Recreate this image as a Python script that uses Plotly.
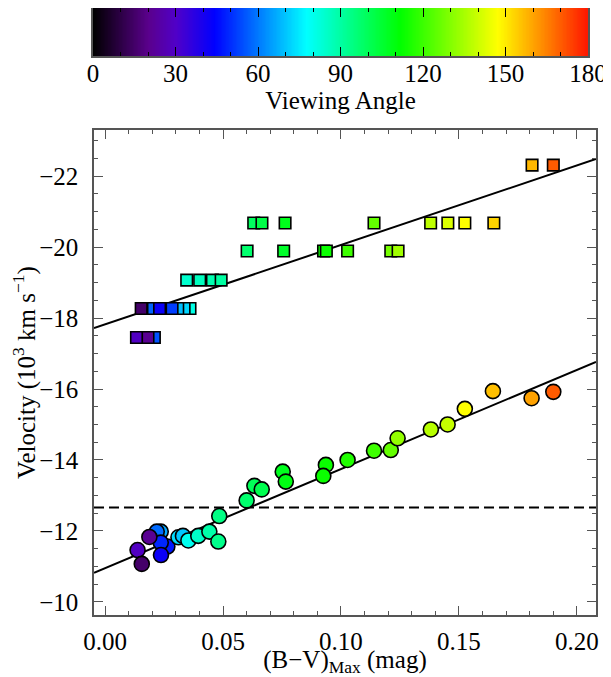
import numpy as np
import plotly.graph_objects as go

# ---------------- data ----------------
# circles: (B-V)max, velocity (10^3 km/s), viewing angle (deg)
circ_bv = [0.0236, 0.0219, 0.0264, 0.0236, 0.0237, 0.0311, 0.0330, 0.0353, 0.0395, 0.0442,
           0.0484, 0.0480, 0.0600, 0.0633, 0.0664, 0.0753, 0.0766, 0.0936, 0.0925, 0.1028,
           0.1140, 0.1211, 0.1240, 0.1381, 0.1452, 0.1525, 0.1644, 0.1808, 0.1900,
           0.01877, 0.01377, 0.01555]
circ_vel = [-11.98, -11.98, -11.56, -11.67, -11.32, -11.82, -11.86, -11.73, -11.86, -11.98,
            -12.42, -11.70, -12.86, -13.27, -13.17, -13.67, -13.39, -13.86, -13.55, -14.00,
            -14.26, -14.28, -14.61, -14.86, -15.00, -15.44, -15.94, -15.74, -15.92,
            -11.83, -11.46, -11.07]
circ_ang = [66, 58, 47, 49, 42, 73, 70, 79.5, 85, 89,
            94, 93, 97, 100, 101, 107.6, 109, 113, 113, 116,
            120, 125.5, 132, 137, 139, 147, 156, 160, 170,
            21, 29, 15]

# squares: (B-V)max, velocity, viewing angle
sq_bv = [0.0209, 0.0182, 0.0133,
         0.0360, 0.0335, 0.0308, 0.0284, 0.0205, 0.0231, 0.0153,
         0.0346, 0.0401, 0.0455, 0.0492,
         0.0602, 0.0757, 0.0926, 0.0938, 0.1028, 0.1211, 0.1242,
         0.0630, 0.0665, 0.0763, 0.1140, 0.1380, 0.1453, 0.1525, 0.1648,
         0.1810, 0.1900]
sq_vel = [-17.45, -17.45, -17.45,
          -18.27, -18.27, -18.27, -18.27, -18.27, -18.27, -18.27,
          -19.07, -19.07, -19.07, -19.07,
          -19.89, -19.89, -19.89, -19.89, -19.89, -19.89, -19.89,
          -20.68, -20.68, -20.68, -20.68, -20.68, -20.68, -20.68, -20.68,
          -22.31, -22.31]
sq_ang = [55, 21, 29,
          81, 72, 69, 52, 57, 42, 15,
          84, 86, 88, 90,
          97, 106, 113, 113, 120, 128, 134,
          99, 102, 108, 125.5, 138, 142, 147, 153,
          157, 170]

# linear fits: velocity = a + b * (B-V)
fit_upper = [-17.82, -22.4]
fit_lower = [-10.95, -27.95]
threshold_vel = -12.66

x_range = [-0.0047, 0.2081]
y_range = [-9.63, -23.30]

x_tickvals = [0.0, 0.05, 0.10, 0.15, 0.20]
x_ticktext = ["0.00", "0.05", "0.10", "0.15", "0.20"]
y_tickvals = [-10, -12, -14, -16, -18, -20, -22]
y_ticktext = ["\u221210", "\u221212", "\u221214", "\u221216", "\u221218", "\u221220", "\u221222"]
angle_ticks = [0, 30, 60, 90, 120, 150, 180]
angle_ticktext = ["0", "30", "60", "90", "120", "150", "180"]

# colour table (angle in deg, rgb)
ctab_ang = [0, 10, 20, 30, 44, 77.5, 111.6, 147, 180]
ctab_rgb = ["rgb(0,0,0)", "rgb(45,0,70)", "rgb(90,0,140)", "rgb(80,0,200)",
            "rgb(0,0,255)", "rgb(0,255,255)", "rgb(0,255,0)", "rgb(255,255,0)",
            "rgb(255,20,0)"]
cscale = [[a / 180.0, c] for a, c in zip(ctab_ang, ctab_rgb)]

FONT = "Liberation Serif"

fig = go.Figure()

# fit lines
xl = np.array(x_range)
fig.add_trace(go.Scatter(x=xl, y=fit_upper[0] + fit_upper[1] * xl, mode="lines",
                         line=dict(color="black", width=2), showlegend=False,
                         hoverinfo="skip"))
fig.add_trace(go.Scatter(x=xl, y=fit_lower[0] + fit_lower[1] * xl, mode="lines",
                         line=dict(color="black", width=2), showlegend=False,
                         hoverinfo="skip"))
fig.add_trace(go.Scatter(x=xl, y=[threshold_vel, threshold_vel], mode="lines",
                         line=dict(color="black", width=1.8, dash="10px,5px"),
                         showlegend=False, hoverinfo="skip"))

# squares
fig.add_trace(go.Scatter(
    x=sq_bv, y=sq_vel, mode="markers", showlegend=False,
    marker=dict(symbol="square", size=11.5, color=sq_ang, colorscale=cscale,
                cmin=0, cmax=180, line=dict(color="black", width=1.6))))

# circles
fig.add_trace(go.Scatter(
    x=circ_bv, y=circ_vel, mode="markers", showlegend=False,
    marker=dict(symbol="circle", size=15, color=circ_ang, colorscale=cscale,
                cmin=0, cmax=180, line=dict(color="black", width=1.6))))

# colour bar as heatmap
cb_x = np.arange(0, 180.01, 0.5)
fig.add_trace(go.Heatmap(x=cb_x, y=[0, 1], z=[cb_x, cb_x], colorscale=cscale,
                         zmin=0, zmax=180, showscale=False, zsmooth="best",
                         xaxis="x2", yaxis="y2", hoverinfo="skip"))

# page has an 8px body margin: lay out in figure pixels = page pixels - 8
OFF = 8
W, H = 611 - OFF, 677 - OFF
ml, mr, mt, mb = 93 - OFF, W - (596 - OFF), 0, H - (615 - OFF)
pw = W - ml - mr
ph = H - mt - mb

axcol = "#555555"
FS = 25
fig.update_layout(
    width=W, height=H,
    margin=dict(l=ml, r=mr, t=mt, b=mb, autoexpand=False),
    paper_bgcolor="white", plot_bgcolor="white",
    font=dict(family=FONT, size=FS, color="black"),
    xaxis=dict(domain=[1 / pw, 1], range=x_range, showgrid=False, zeroline=False,
               automargin=False,
               showline=True, linecolor=axcol, linewidth=1.5, mirror="allticks",
               ticks="inside", ticklen=9, tickwidth=1.3, tickcolor=axcol,
               tickvals=x_tickvals, ticktext=x_ticktext, ticklabelstandoff=3,
               minor=dict(dtick=0.01, tick0=0, ticks="inside", ticklen=4, tickcolor=axcol,
                          tickwidth=1.3),
               title=dict(text="(B\u2212V)<sub>Max</sub> (mag)", standoff=0,
                          font=dict(size=FS))),
    yaxis=dict(domain=[0, 485 / ph], range=y_range, showgrid=False, zeroline=False,
               automargin=False,
               showline=True, linecolor=axcol, linewidth=1.5, mirror="allticks",
               ticks="inside", ticklen=9, tickwidth=1.3, tickcolor=axcol,
               tickvals=y_tickvals, ticktext=y_ticktext, ticklabelstandoff=9,
               minor=dict(dtick=0.5, tick0=0, ticks="inside", ticklen=4, tickcolor=axcol,
                          tickwidth=1.3),
               title=dict(text="Velocity (10<sup>3</sup> km s<sup>\u22121</sup>)", standoff=6,
                          font=dict(size=FS))),
    xaxis2=dict(domain=[0, (588 - 93) / pw], range=[0, 180], anchor="y2",
                automargin=False,
                showgrid=False, zeroline=False, showline=True, linecolor=axcol,
                linewidth=1.5, mirror="allticks", ticks="inside", ticklen=9,
                tickwidth=1.3, tickcolor="black", tickvals=angle_ticks,
                ticktext=angle_ticktext, ticklabelstandoff=-6,
                minor=dict(dtick=10, ticks="inside", ticklen=4, tickcolor="black", tickwidth=1.3),
                title=dict(text="Viewing Angle", standoff=0, font=dict(size=FS))),
    yaxis2=dict(domain=[(615 - 56) / ph, 1], range=[0, 1], anchor="x2",
                automargin=False,
                showgrid=False, zeroline=False, showline=True, linecolor=axcol,
                linewidth=1.5, mirror=True, ticks="", showticklabels=False),
)

fig.write_html("out.html")
